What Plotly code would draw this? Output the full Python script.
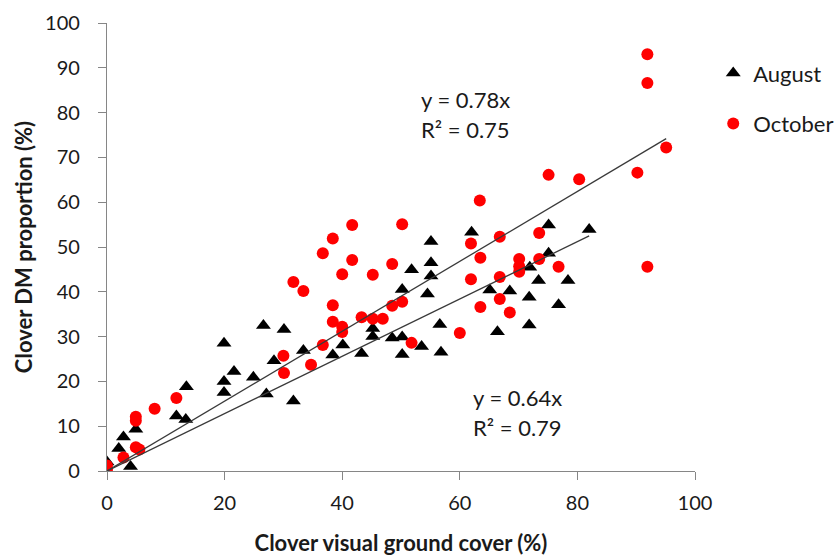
import plotly.graph_objects as go

# August observations: visual ground cover (%) vs. DM proportion (%)
aug_cover = [0.0, 2.0, 2.8, 4.0, 4.9, 11.8, 13.4, 13.5, 19.9, 19.9, 19.9, 21.6, 24.9,
             26.6, 27.1, 28.4, 30.1, 31.7, 33.4, 38.4, 40.1, 43.3, 45.2, 45.2, 48.5,
             50.2, 50.2, 50.2, 51.8, 53.5, 54.5, 55.1, 55.1, 55.1, 56.6, 56.8, 62.0,
             65.1, 66.4, 68.5, 71.8, 71.8, 71.9, 73.4, 75.1, 75.1, 76.8, 78.4, 82.0]
aug_dm = [2.0, 5.0, 7.6, 1.0, 9.3, 12.3, 11.5, 18.8, 28.5, 20.0, 17.5, 22.2, 20.9,
          32.5, 17.2, 24.6, 31.6, 15.6, 26.9, 25.9, 28.1, 26.2, 31.8, 30.0, 29.7,
          29.9, 26.0, 40.5, 44.9, 27.8, 39.5, 51.2, 46.5, 43.5, 32.7, 26.5, 53.3,
          40.4, 31.1, 40.2, 38.8, 32.6, 45.5, 42.5, 48.6, 54.9, 37.1, 42.5, 53.9]

# October observations
oct_cover = [0.0, 0.0, 2.8, 4.9, 4.9, 4.9, 5.5, 8.1, 11.8, 30.0, 30.1, 31.7, 33.4,
             34.7, 36.7, 36.7, 38.4, 38.4, 38.4, 40.0, 40.0, 40.0, 41.7, 41.7, 43.3,
             45.2, 45.2, 46.9, 48.5, 48.5, 50.2, 50.2, 51.8, 60.0, 61.9, 61.9, 63.4,
             63.5, 63.5, 66.8, 66.8, 66.8, 68.5, 70.1, 70.1, 70.1, 73.5, 73.5, 75.1,
             76.8, 80.3, 90.2, 91.9, 91.9, 91.9, 95.1]
oct_dm = [1.2, 0.4, 3.0, 12.1, 11.2, 5.3, 4.8, 13.9, 16.3, 25.7, 21.9, 42.2, 40.2,
          23.7, 48.6, 28.1, 51.9, 37.0, 33.3, 43.9, 32.2, 31.0, 54.9, 47.1, 34.3,
          43.8, 34.0, 34.0, 46.2, 36.9, 55.1, 37.8, 28.6, 30.8, 50.8, 42.8, 60.4,
          47.6, 36.6, 52.3, 43.3, 38.4, 35.4, 47.3, 45.7, 44.5, 53.1, 47.3, 66.1,
          45.6, 65.1, 66.6, 93.0, 86.6, 45.6, 72.2]

# Linear fits through the origin
aug_slope, aug_r2 = 0.64, 0.79
oct_slope, oct_r2 = 0.78, 0.75

FONT = "Lato"
TXT = "#1a1a1a"
AXIS = "#868686"

fig = go.Figure()

fig.add_trace(go.Scatter(
    x=aug_cover, y=aug_dm, mode="markers", name="August",
    legendgroup="aug",
    marker=dict(symbol="triangle-up", size=13, color="black"),
))
fig.add_trace(go.Scatter(
    x=oct_cover, y=oct_dm, mode="markers", name="October",
    legendgroup="oct",
    marker=dict(symbol="circle", size=12, color="#ff0000"),
))

for cover, slope in ((aug_cover, aug_slope), (oct_cover, oct_slope)):
    xs = [0, max(cover)]
    fig.add_trace(go.Scatter(
        x=xs, y=[slope * v for v in xs], mode="lines", showlegend=False,
        line=dict(color="#3a3a3a", width=1.3), hoverinfo="skip",
    ))

def fit_labels(slope, r2, x, y_top):
    fig.add_annotation(x=x, y=y_top, text=f"y = {slope:.2f}x", showarrow=False,
                       xanchor="left", yanchor="middle",
                       font=dict(family=FONT, size=22, color=TXT))
    fig.add_annotation(x=x, y=y_top - 6.7, text=f"R² = {r2:.2f}", showarrow=False,
                       xanchor="left", yanchor="middle",
                       font=dict(family=FONT, size=22, color=TXT))

fit_labels(oct_slope, oct_r2, 53.0, 83.0)
fit_labels(aug_slope, aug_r2, 61.9, 16.4)

fig.update_xaxes(
    range=[0, 100], tickvals=[0, 20, 40, 60, 80, 100],
    showline=True, linecolor=AXIS, linewidth=1.3,
    ticks="outside", ticklen=8, tickcolor=AXIS, tickwidth=1.3,
    showgrid=False, zeroline=False, ticklabelstandoff=6,
    tickfont=dict(family=FONT, size=20, color=TXT),
    title=dict(text="<b>Clover visual ground cover (%)</b>", standoff=22,
               font=dict(family=FONT, size=22, color=TXT)),
)
fig.update_yaxes(
    range=[0, 100], tickvals=list(range(0, 101, 10)),
    showline=True, linecolor=AXIS, linewidth=1.3,
    ticks="outside", ticklen=8, tickcolor=AXIS, tickwidth=1.3,
    showgrid=False, zeroline=False, ticklabelstandoff=14,
    tickfont=dict(family=FONT, size=20, color=TXT),
    title=dict(text="<b>Clover DM proportion (%)</b>", standoff=6,
               font=dict(family=FONT, size=22, color=TXT)),
)

fig.update_layout(
    width=838, height=560,
    margin=dict(l=107, r=143, t=23, b=89, autoexpand=False),
    plot_bgcolor="white", paper_bgcolor="white",
    legend=dict(x=1.031, y=0.935, xanchor="left", yanchor="top",
                font=dict(family=FONT, size=22, color=TXT),
                tracegroupgap=19, itemwidth=30,
                bgcolor="rgba(0,0,0,0)"),
)

fig.write_html("out.html")
